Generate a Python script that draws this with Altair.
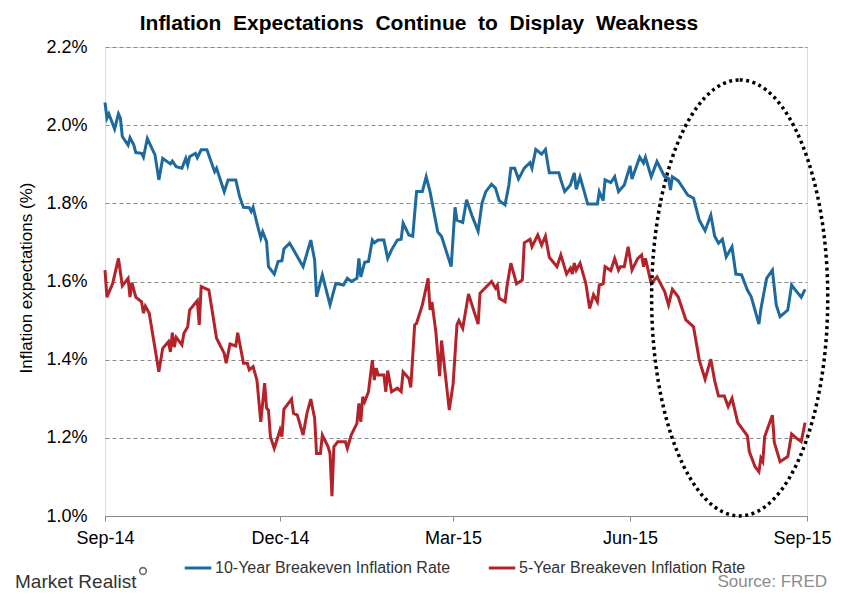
import altair as alt
import pandas as pd

# ---- data (days after 2014-09-01, rate in %) ----
blue_days = [0, 1, 2, 5, 7, 8, 9, 12, 13, 15,
             16, 19, 20, 22, 26, 28, 30, 34, 35, 37,
             40, 42, 43, 44, 47, 48, 50, 53, 57, 58,
             62, 64, 68, 70, 72, 75, 76, 77, 79, 81,
             82, 84, 85, 88, 90, 92, 93, 96, 98, 103,
             107, 109, 110, 113, 117, 120, 124, 126, 128, 131,
             132, 133, 135, 137, 139, 140, 142, 145, 147, 149,
             152, 154, 155, 158, 160, 162, 165, 167, 169, 173,
             175, 180, 182, 183, 186, 188, 191, 194, 196, 198,
             201, 203, 205, 208, 210, 211, 213, 215, 218, 221,
             222, 224, 227, 229, 231, 236, 237, 239, 242, 244,
             245, 247, 251, 256, 257, 259, 260, 263, 265, 267,
             270, 273, 274, 278, 280, 281, 284, 287, 291, 293,
             294, 295, 298, 301, 303, 306, 309, 312, 315, 317,
             319, 321, 323, 326, 328, 331, 334, 336, 340, 341,
             344, 347, 349, 351, 355, 357, 359, 362, 364]
blue_vals = [2.058, 2.018, 2.029, 1.990, 2.029, 2.018, 1.971, 1.949, 1.968, 1.949,
             1.930, 1.928, 1.918, 1.966, 1.924, 1.860, 1.915, 1.901, 1.908, 1.894,
             1.890, 1.915, 1.898, 1.919, 1.928, 1.917, 1.937, 1.937, 1.881, 1.890,
             1.830, 1.860, 1.860, 1.817, 1.790, 1.789, 1.779, 1.790, 1.749, 1.711,
             1.727, 1.702, 1.638, 1.619, 1.651, 1.653, 1.683, 1.698, 1.681, 1.638,
             1.706, 1.655, 1.561, 1.617, 1.540, 1.595, 1.591, 1.608, 1.600, 1.608,
             1.659, 1.612, 1.649, 1.651, 1.706, 1.699, 1.706, 1.706, 1.659, 1.681,
             1.706, 1.708, 1.749, 1.719, 1.716, 1.830, 1.830, 1.868, 1.830, 1.727,
             1.715, 1.638, 1.790, 1.757, 1.751, 1.809, 1.766, 1.729, 1.800, 1.830,
             1.849, 1.839, 1.807, 1.796, 1.847, 1.890, 1.890, 1.862, 1.890, 1.904,
             1.890, 1.938, 1.926, 1.938, 1.878, 1.878, 1.860, 1.830, 1.847, 1.878,
             1.836, 1.868, 1.798, 1.798, 1.830, 1.807, 1.860, 1.853, 1.868, 1.830,
             1.847, 1.896, 1.862, 1.918, 1.903, 1.918, 1.868, 1.907, 1.868, 1.864,
             1.834, 1.868, 1.858, 1.836, 1.821, 1.813, 1.757, 1.730, 1.770, 1.716,
             1.698, 1.708, 1.663, 1.689, 1.619, 1.617, 1.578, 1.561, 1.491, 1.529,
             1.608, 1.629, 1.540, 1.510, 1.527, 1.591, 1.578, 1.560, 1.580]

red_days = [0, 1, 4, 7, 9, 12, 13, 14, 16, 19,
            20, 21, 23, 28, 30, 33, 34, 35, 36, 37,
            40, 41, 43, 44, 48, 49, 50, 54, 58, 62,
            63, 65, 68, 69, 72, 74, 75, 77, 79, 81,
            83, 84, 85, 86, 88, 91, 92, 93, 97, 98,
            100, 103, 105, 107, 109, 110, 112, 113, 116, 117,
            118, 119, 121, 125, 126, 128, 131, 132, 133, 134,
            135, 137, 139, 140, 141, 142, 145, 146, 147, 149,
            152, 154, 155, 158, 159, 161, 162, 165, 168, 169,
            170, 172, 174, 175, 176, 179, 181, 183, 184, 186,
            189, 194, 195, 197, 201, 203, 204, 205, 208, 209,
            211, 214, 217, 218, 221, 222, 225, 227, 229, 231,
            235, 237, 240, 242, 243, 244, 245, 247, 250, 252,
            254, 256, 257, 259, 260, 263, 265, 267, 268, 270,
            272, 274, 277, 279, 280, 281, 284, 287, 291, 293,
            295, 298, 302, 306, 309, 312, 315, 317, 319, 322,
            324, 326, 329, 334, 335, 338, 340, 341, 342, 343,
            347, 348, 351, 355, 357, 359, 362, 364]
red_vals = [1.629, 1.560, 1.595, 1.659, 1.589, 1.608, 1.560, 1.597, 1.560, 1.548,
            1.519, 1.537, 1.519, 1.369, 1.429, 1.446, 1.420, 1.469, 1.432, 1.457,
            1.438, 1.467, 1.484, 1.527, 1.551, 1.489, 1.587, 1.578, 1.455, 1.416,
            1.391, 1.440, 1.435, 1.469, 1.391, 1.391, 1.374, 1.382, 1.348, 1.241,
            1.340, 1.276, 1.271, 1.203, 1.173, 1.220, 1.203, 1.273, 1.299, 1.263,
            1.258, 1.207, 1.263, 1.299, 1.250, 1.160, 1.160, 1.207, 1.177, 1.160,
            1.051, 1.177, 1.190, 1.190, 1.173, 1.207, 1.237, 1.288, 1.241, 1.305,
            1.292, 1.318, 1.399, 1.348, 1.378, 1.361, 1.361, 1.318, 1.372, 1.318,
            1.327, 1.318, 1.369, 1.352, 1.329, 1.489, 1.493, 1.540, 1.608, 1.527,
            1.548, 1.472, 1.358, 1.449, 1.404, 1.271, 1.338, 1.489, 1.500, 1.480,
            1.568, 1.491, 1.570, 1.580, 1.600, 1.583, 1.591, 1.557, 1.548, 1.587,
            1.647, 1.594, 1.604, 1.699, 1.708, 1.689, 1.719, 1.693, 1.716, 1.662,
            1.638, 1.668, 1.619, 1.634, 1.619, 1.647, 1.629, 1.647, 1.595, 1.531,
            1.566, 1.548, 1.591, 1.594, 1.638, 1.628, 1.659, 1.629, 1.638, 1.638,
            1.689, 1.629, 1.659, 1.668, 1.638, 1.659, 1.595, 1.612, 1.574, 1.540,
            1.580, 1.561, 1.502, 1.484, 1.399, 1.350, 1.401, 1.346, 1.307, 1.307,
            1.280, 1.301, 1.239, 1.205, 1.165, 1.126, 1.113, 1.148, 1.139, 1.203,
            1.258, 1.188, 1.139, 1.152, 1.210, 1.201, 1.190, 1.239]

assert len(blue_days) == len(blue_vals)
assert len(red_days) == len(red_vals)

start_date = "2014-09-01"
series_names = ["10-Year Breakeven Inflation Rate", "5-Year Breakeven Inflation Rate"]
series_colors = ["#1f6a9c", "#b4232a"]
x_ticks = ["2014-09-01", "2014-12-01", "2015-03-01", "2015-06-01", "2015-09-01"]
y_ticks = [1.0, 1.2, 1.4, 1.6, 1.8, 2.0, 2.2]

title_words = ["Inflation", "Expectations", "Continue", "to", "Display", "Weakness"]

# highlighted region (dotted ellipse) centre
ellipse_center = {"date": "2015-07-28", "rate": 1.558}

FONT = "Liberation Sans, Arial, sans-serif"

def make_frame(days, vals, name):
    d = pd.Timestamp(start_date) + pd.to_timedelta(days, unit="D")
    return pd.DataFrame({"date": d.strftime("%Y-%m-%d"), "rate": vals, "series": name})

df = pd.concat([make_frame(blue_days, blue_vals, series_names[0]),
                make_frame(red_days, red_vals, series_names[1])], ignore_index=True)

W, H = 702, 469

x_enc = alt.X("date:T",
              scale=alt.Scale(domain=["2014-09-01", "2015-09-01"]),
              axis=alt.Axis(values=x_ticks, format="%b-%y", title=None, grid=False,
                            domainColor="#888888", tickColor="#888888", tickSize=5,
                            labelFont=FONT, labelFontSize=18, labelColor="#000000",
                            labelPadding=8, labelFlush=False,
                            labelOffset={"condition": {"test": "year(datum.value) == 2015 && month(datum.value) == 8",
                                                       "value": -5},
                                         "value": 0}))
y_enc = alt.Y("rate:Q",
              scale=alt.Scale(domain=[1.0, 2.2], nice=False, zero=False),
              axis=alt.Axis(values=y_ticks, labelExpr="format(datum.value, '.1f') + '%'",
                            title="Inflation expectations (%)", titleFont=FONT,
                            titleFontSize=17, titleFontWeight="normal", titleColor="#000000",
                            titleX=-70, titleY=H / 2 - 4,
                            domain=False, ticks=False, tickSize=0, labelPadding=18,
                            labelFont=FONT, labelFontSize=18, labelColor="#000000",
                            grid=True, gridDash=[4, 3], gridColor="#8a8a8a", gridWidth=1))

lines = alt.Chart(df).mark_line(strokeWidth=3).encode(
    x=x_enc, y=y_enc,
    color=alt.Color("series:N",
                    scale=alt.Scale(domain=series_names, range=series_colors),
                    legend=alt.Legend(orient="none", legendX=78, legendY=506,
                                      direction="horizontal", title=None,
                                      symbolType="stroke", symbolSize=700,
                                      symbolStrokeWidth=3, labelFont=FONT,
                                      labelFontSize=16, labelColor="#333333",
                                      labelOffset=2, columnPadding=31,
                                      labelLimit=400)),
    order="date:T",
)

ell_df = pd.DataFrame([ellipse_center])
ellipse = alt.Chart(ell_df).mark_point(
    shape="M 0 -1 A 0.404 1 0 1 1 0 1 A 0.404 1 0 1 1 0 -1 Z",
    size=436 * 436, filled=False, stroke="#000000", strokeWidth=3.5,
    strokeDash=[3, 3.5], opacity=1,
).encode(x="date:T", y="rate:Q")

brand = alt.Chart(pd.DataFrame({"t": ["Market Realist"]})).mark_text(
    font=FONT, fontSize=19, color="#333333", align="left", baseline="middle"
).encode(x=alt.value(-90), y=alt.value(535), text="t:N")

brand_icon = alt.Chart(pd.DataFrame({"t": ["icon"]})).mark_point(
    shape="circle", size=45, filled=False, stroke="#333333", strokeWidth=1.6
).encode(x=alt.value(38), y=alt.value(524))

source = alt.Chart(pd.DataFrame({"t": ["Source: FRED"]})).mark_text(
    font=FONT, fontSize=17, color="#8c8c8c", align="right", baseline="middle"
).encode(x=alt.value(722), y=alt.value(535), text="t:N")

title_text = "\u00a0 ".join(title_words)

chart = alt.layer(lines, ellipse, brand, brand_icon, source).properties(
    width=W, height=H,
    title=alt.TitleParams(title_text,
                          font=FONT, fontSize=21, fontWeight="bold", color="#000000",
                          anchor="middle", dx=-37, offset=4),
    autosize=alt.AutoSizeParams(type="none"),
    padding={"left": 97, "top": 39, "right": 26, "bottom": 76},
).configure_view(stroke=None).configure(background="#ffffff")

chart.save("out.html", embed_options={"renderer": "svg", "actions": False})
